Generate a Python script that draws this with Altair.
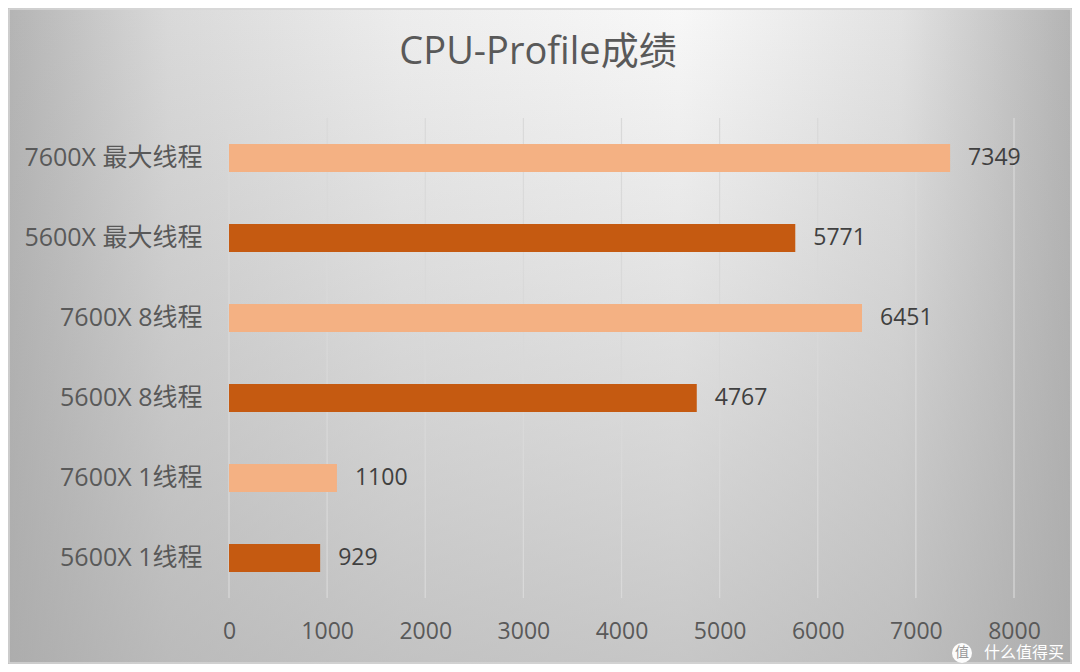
import altair as alt
import pandas as pd

categories = ["7600X 最大线程", "5600X 最大线程", "7600X 8线程", "5600X 8线程", "7600X 1线程", "5600X 1线程"]
series = ["7600X", "5600X", "7600X", "5600X", "7600X", "5600X"]
values = [7349, 5771, 6451, 4767, 1100, 929]
tick_values = [0, 1000, 2000, 3000, 4000, 5000, 6000, 7000, 8000]
title_text = "CPU-Profile成绩"

FONT = "Open Sans, Noto Sans CJK SC, sans-serif"
W, H = 785, 480
PL, PT, PR, PB = 221, 110, 58, 66

df = pd.DataFrame({"cat": categories, "series": series, "value": values})
grid_df = pd.DataFrame({"t": tick_values})
one = pd.DataFrame({"a": [0]})

bg = alt.Chart(one).mark_rect(
    fill=alt.LinearGradient(
        gradient="linear", x1=0, x2=1, y1=0, y2=0,
        stops=[
            alt.GradientStop(color="#b4b4b4", offset=0),
            alt.GradientStop(color="#d9d9d9", offset=0.15),
            alt.GradientStop(color="#ededed", offset=0.37),
            alt.GradientStop(color="#f8f8f8", offset=0.63),
            alt.GradientStop(color="#e2e2e2", offset=0.84),
            alt.GradientStop(color="#b4b4b4", offset=1),
        ],
    )
).encode(x=alt.value(-PL), x2=alt.value(W + PR), y=alt.value(-PT), y2=alt.value(H + PB))

shade = alt.Chart(one).mark_rect(
    fill=alt.LinearGradient(
        gradient="linear", x1=0, x2=0, y1=0, y2=1,
        stops=[
            alt.GradientStop(color="rgba(168,168,168,0)", offset=0),
            alt.GradientStop(color="rgba(168,168,168,0.62)", offset=1),
        ],
    )
).encode(x=alt.value(-PL), x2=alt.value(W + PR), y=alt.value(-PT), y2=alt.value(H + PB))

border = alt.Chart(one).mark_rect(fill="transparent", stroke="#d6d6d6", strokeWidth=1.5).encode(
    x=alt.value(-PL + 1), x2=alt.value(W + PR - 1), y=alt.value(-PT + 1), y2=alt.value(H + PB - 1)
)

x_scale = alt.Scale(domain=[0, 8000], nice=False, zero=True)

grid = alt.Chart(grid_df).mark_rule(color="#d9d9d9", strokeWidth=1.2).encode(
    x=alt.X("t:Q", scale=x_scale,
            axis=alt.Axis(values=tick_values, grid=False, domain=False, ticks=False,
                          labelFont=FONT, labelFontSize=23, labelColor="#595959",
                          labelPadding=22, labelFlush=False, labelOverlap=False,
                          title=None, format="d", zindex=1)),
)

bars = alt.Chart(df).mark_bar(size=28).encode(
    y=alt.Y("cat:N", sort=categories, scale=alt.Scale(paddingInner=0, paddingOuter=0),
            axis=alt.Axis(domain=False, ticks=False, grid=False, labelFont=FONT,
                          labelFontSize=25, labelColor="#595959", labelPadding=27,
                          title=None, labelLimit=400, zindex=1)),
    x=alt.X("value:Q", scale=x_scale),
    color=alt.Color("series:N", scale=alt.Scale(domain=["7600X", "5600X"], range=["#F4B183", "#C55A11"]),
                    legend=None),
)

labels = alt.Chart(df).mark_text(align="left", baseline="middle", dx=18, font=FONT,
                                 fontSize=23, color="#404040").encode(
    y=alt.Y("cat:N", sort=categories),
    x=alt.X("value:Q", scale=x_scale),
    text=alt.Text("value:Q", format="d"),
)

title = alt.Chart(one).mark_text(text=title_text, font=FONT, fontSize=38, color="#595959",
                                 align="center", baseline="middle").encode(
    x=alt.value(309), y=alt.value(-65)
)

wm_circle = alt.Chart(one).mark_point(filled=True, shape="circle", size=400, color="white", opacity=0.95).encode(
    x=alt.value(733), y=alt.value(535)
)
wm_icon = alt.Chart(one).mark_text(text="值", font=FONT, fontSize=14, color="#9a9a9a",
                                   align="center", baseline="middle").encode(
    x=alt.value(733), y=alt.value(535)
)
wm_text = alt.Chart(one).mark_text(text="什么值得买", font=FONT, fontSize=16, color="white",
                                   align="left", baseline="middle").encode(
    x=alt.value(755), y=alt.value(535)
)

chart = alt.layer(bg, shade, border, grid, bars, labels, title, wm_circle, wm_icon, wm_text).resolve_scale(
    color="independent"
).properties(
    width=W, height=H, autosize="none",
    padding={"left": PL, "top": PT, "right": PR, "bottom": PB},
).configure_view(stroke=None)

chart.save("out.html", embed_options={"renderer": "svg", "actions": False})
